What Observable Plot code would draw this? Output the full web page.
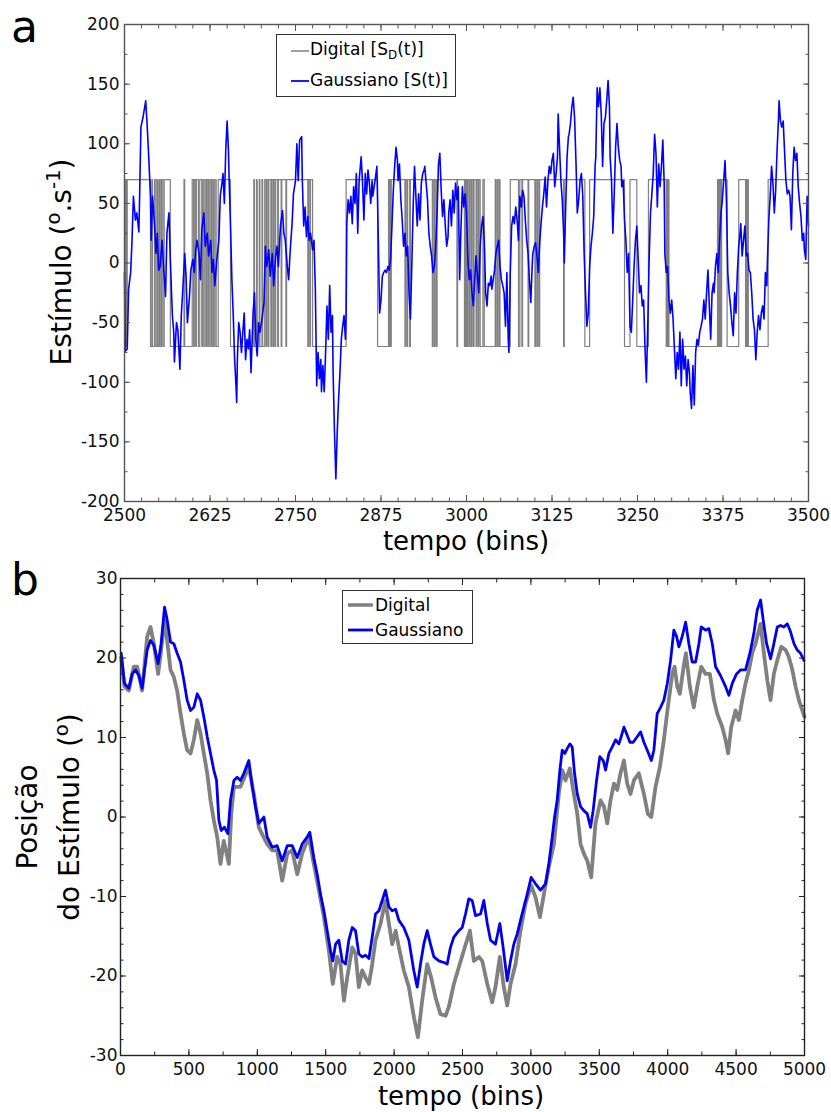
<!DOCTYPE html>
<html>
<head>
<meta charset="utf-8">
<script src="https://cdn.jsdelivr.net/npm/d3@7"></script>
<script src="https://cdn.jsdelivr.net/npm/@observablehq/plot@0.6"></script>
<style>
  html, body { margin: 0; padding: 0; background: #fff; }
  #wrap { position: relative; width: 831px; height: 1112px; overflow: hidden; font-family: "DejaVu Sans", sans-serif; color: #000; }
  .panel { position: absolute; left: 0; }
  .abs { position: absolute; white-space: nowrap; line-height: 1; }
  .rot { transform: translate(-50%, -50%) rotate(-90deg); }
  .hc { transform: translateX(-50%); }
  .legend { position: absolute; border: 1.5px solid #333; background: #fff; box-sizing: border-box; }
  .legend .row { position: absolute; white-space: nowrap; line-height: 1; font-size: 17px; }
  .legend svg { position: absolute; overflow: visible; }
  sub { font-size: 0.7em; vertical-align: -0.3em; line-height: 0; }
  sup { font-size: 0.7em; vertical-align: 0.55em; line-height: 0; }
</style>
</head>
<body>
<div id="wrap">
  <div id="panelA" class="panel" style="top:0"></div>
  <div id="panelB" class="panel" style="top:560px"></div>

  <div class="abs" style="left:11px; top:5px; font-size:44px;">a</div>
  <div class="abs" style="left:11px; top:558px; font-size:44px;">b</div>

  <div class="abs rot" style="left:62px; top:262px; font-size:28px;">Estímulo (<sup>o</sup>.s<sup>-1</sup>)</div>
  <div class="abs hc" style="left:466px; top:528px; font-size:26px;">tempo (bins)</div>

  <div class="abs rot" style="left:28px; top:817px; font-size:28px;">Posição</div>
  <div class="abs rot" style="left:70px; top:817px; font-size:28px;">do Estímulo (<sup>o</sup>)</div>
  <div class="abs hc" style="left:461px; top:1083px; font-size:26px;">tempo (bins)</div>

  <div class="legend" style="left:276px; top:34px; width:180px; height:63px;">
    <svg style="left:14px; top:14px;" width="18" height="4"><line x1="0" y1="2" x2="18" y2="2" stroke="#808080" stroke-width="1.5"/></svg>
    <div class="row" style="left:33px; top:6px;">Digital [S<sub>D</sub>(t)]</div>
    <svg style="left:14px; top:44px;" width="18" height="4"><line x1="0" y1="2" x2="18" y2="2" stroke="#0000ff" stroke-width="1.8"/></svg>
    <div class="row" style="left:33px; top:37px;">Gaussiano [S(t)]</div>
  </div>

  <div class="legend" style="left:342px; top:590px; width:131px; height:54px;">
    <svg style="left:5px; top:11px;" width="25" height="6"><line x1="0" y1="3" x2="25" y2="3" stroke="#808080" stroke-width="3.5"/></svg>
    <div class="row" style="left:32px; top:6px;">Digital</div>
    <svg style="left:5px; top:36px;" width="25" height="6"><line x1="0" y1="3" x2="25" y2="3" stroke="#0000ee" stroke-width="2.8"/></svg>
    <div class="row" style="left:32px; top:31px;">Gaussiano</div>
  </div>
</div>

<script>
// ---------------- Panel a data ----------------
const xTicksA = [2500, 2625, 2750, 2875, 3000, 3125, 3250, 3375, 3500];
const yTicksA = [-200, -150, -100, -50, 0, 50, 100, 150, 200];

// Gaussian stimulus S(t): [bin, deg/s]
const gaussianA = [
[2500,-8],[2501,-74],[2504,-72],[2506,-22],[2509,-8],[2511,19],[2513,56],[2516,36],[2518,42],[2521,26],
[2522,53],[2524,114],[2527,122],[2531,136],[2533,117],[2535,94],[2538,56],[2539,19],[2541,56],[2544,31],
[2546,8],[2548,25],[2550,-6],[2552,-3],[2555,19],[2557,-3],[2560,-28],[2562,25],[2565,42],[2567,3],
[2570,-44],[2572,-58],[2573,-83],[2576,-50],[2578,-56],[2581,-89],[2583,-44],[2585,-25],[2588,8],[2590,-11],
[2592,-50],[2595,-28],[2597,-6],[2600,3],[2602,-8],[2604,11],[2606,19],[2609,8],[2611,-14],[2613,28],
[2616,42],[2618,14],[2621,25],[2623,6],[2626,19],[2628,-8],[2630,3],[2632,-19],[2635,3],[2638,19],
[2640,56],[2643,69],[2644,75],[2646,50],[2648,94],[2650,119],[2652,94],[2653,69],[2655,31],[2657,-14],
[2659,-44],[2661,-81],[2663,-103],[2664,-117],[2665,-81],[2667,-50],[2669,-58],[2671,-75],[2673,-58],[2675,-42],
[2677,-81],[2679,-64],[2681,-72],[2683,-56],[2685,-92],[2688,-42],[2690,-25],[2692,-64],[2694,-78],[2696,-50],
[2698,-58],[2701,-47],[2704,-33],[2706,14],[2708,-3],[2711,11],[2713,-11],[2716,8],[2718,-19],[2721,6],
[2723,14],[2725,-3],[2728,31],[2731,44],[2733,25],[2735,19],[2738,-3],[2740,-14],[2742,8],[2745,33],
[2747,58],[2750,69],[2752,100],[2754,69],[2756,103],[2759,106],[2760,69],[2762,31],[2764,47],[2766,22],
[2768,39],[2770,19],[2772,25],[2775,11],[2777,19],[2779,-22],[2781,-103],[2783,-75],[2785,-97],[2787,-81],
[2788,-108],[2790,-86],[2792,-108],[2794,-75],[2796,-36],[2798,-64],[2800,-19],[2802,-58],[2804,-44],[2805,-92],
[2807,-142],[2809,-181],[2811,-142],[2813,-114],[2815,-92],[2817,-64],[2819,-53],[2821,-44],[2823,-64],[2824,-44],
[2825,33],[2827,53],[2829,42],[2831,56],[2833,33],[2835,64],[2837,50],[2839,75],[2841,25],[2843,69],
[2846,89],[2848,67],[2850,36],[2852,75],[2854,58],[2856,78],[2858,67],[2860,50],[2862,69],[2863,56],
[2865,64],[2867,72],[2869,81],[2871,22],[2873,-42],[2875,-31],[2877,-11],[2879,-8],[2881,-6],[2883,-8],
[2885,-3],[2887,-6],[2889,3],[2891,31],[2893,61],[2895,81],[2897,97],[2899,86],[2900,69],[2902,83],
[2904,53],[2906,36],[2908,14],[2910,25],[2912,6],[2914,14],[2916,-25],[2918,-47],[2920,-3],[2922,47],
[2924,81],[2926,56],[2928,31],[2930,58],[2932,36],[2934,67],[2936,75],[2938,78],[2939,81],[2941,67],
[2943,53],[2945,25],[2947,14],[2949,6],[2951,-8],[2953,-3],[2955,14],[2957,42],[2959,83],[2961,92],
[2963,61],[2965,39],[2967,53],[2969,31],[2971,14],[2973,22],[2974,42],[2976,53],[2978,31],[2980,61],
[2982,42],[2984,67],[2986,53],[2988,64],[2990,-14],[2992,31],[2994,64],[2996,47],[2998,58],[3000,42],
[3002,3],[3004,-14],[3006,-6],[3008,-25],[3010,-36],[3012,-14],[3014,6],[3016,-11],[3018,-25],[3020,14],
[3022,31],[3024,39],[3026,19],[3028,-25],[3030,-36],[3032,-17],[3034,-19],[3036,-11],[3037,-22],[3039,-14],
[3041,-6],[3043,8],[3045,14],[3047,19],[3049,-3],[3051,-14],[3053,-19],[3055,-25],[3057,-53],[3059,-8],
[3061,-64],[3062,-75],[3064,-8],[3066,31],[3068,39],[3070,33],[3072,47],[3074,36],[3076,19],[3078,56],
[3080,47],[3082,61],[3084,56],[3086,36],[3088,19],[3090,8],[3092,-14],[3094,-33],[3096,-3],[3097,8],
[3099,14],[3101,17],[3103,6],[3105,-8],[3107,17],[3109,33],[3111,47],[3113,58],[3115,72],[3117,47],
[3119,69],[3121,81],[3123,75],[3125,86],[3127,92],[3129,64],[3131,75],[3133,89],[3134,125],[3136,97],
[3138,69],[3140,53],[3142,25],[3143,0],[3145,47],[3147,89],[3149,106],[3150,108],[3152,117],[3154,131],
[3156,139],[3158,122],[3160,86],[3162,42],[3164,53],[3166,69],[3168,75],[3170,56],[3172,8],[3174,-25],
[3176,-53],[3178,-42],[3180,-3],[3182,14],[3184,25],[3186,39],[3188,81],[3189,89],[3191,147],[3193,131],
[3195,147],[3197,125],[3199,81],[3201,117],[3203,122],[3205,136],[3207,153],[3209,131],[3210,89],[3212,69],
[3214,25],[3216,58],[3218,97],[3220,117],[3222,97],[3224,86],[3226,81],[3227,64],[3229,69],[3231,36],
[3233,19],[3235,-8],[3237,8],[3239,-53],[3241,-58],[3243,-31],[3245,-3],[3247,19],[3249,31],[3251,3],
[3253,-25],[3255,-19],[3257,-36],[3259,-31],[3261,-72],[3263,-100],[3265,-53],[3267,3],[3269,42],[3271,58],
[3273,75],[3275,108],[3277,92],[3279,47],[3281,83],[3283,64],[3285,81],[3287,103],[3289,67],[3290,8],
[3292,-8],[3294,-3],[3296,-31],[3298,-42],[3300,-31],[3302,-47],[3304,-72],[3306,-97],[3308,-75],[3310,-89],
[3312,-58],[3314,-103],[3316,-64],[3318,-89],[3320,-78],[3322,-103],[3324,-81],[3326,-92],[3327,-108],[3329,-122],
[3331,-86],[3333,-119],[3335,-75],[3337,-64],[3339,-69],[3341,-58],[3343,-53],[3345,-47],[3347,-31],[3349,-47],
[3351,-25],[3353,-6],[3355,-36],[3357,-64],[3359,-25],[3361,-17],[3362,-25],[3364,-3],[3366,8],[3368,-8],
[3370,19],[3372,42],[3374,53],[3376,69],[3378,86],[3380,53],[3382,-8],[3384,-25],[3386,-36],[3388,-50],
[3390,-61],[3392,-25],[3394,-42],[3396,-8],[3398,14],[3400,25],[3401,33],[3403,6],[3405,19],[3407,31],
[3409,6],[3411,8],[3413,-6],[3415,-8],[3417,-25],[3419,-47],[3421,-56],[3423,-81],[3425,-58],[3427,-44],
[3429,-56],[3431,-42],[3433,-36],[3435,-47],[3437,-8],[3439,-19],[3440,3],[3442,36],[3444,56],[3446,81],
[3448,67],[3450,42],[3452,61],[3454,94],[3456,119],[3457,136],[3459,119],[3461,114],[3463,119],[3465,94],
[3467,69],[3469,58],[3471,61],[3473,56],[3475,28],[3477,75],[3479,97],[3481,86],[3483,92],[3485,64],
[3487,50],[3489,39],[3491,19],[3493,25],[3494,11],[3496,3],[3498,56],[3500,31]
];

// Digital stimulus S_D(t): level (+/-70) and the bins at which it flips
const digitalLevel = 70;
const digitalStartLevel = 70;
const digitalFlips = [
2501,2502,2503,2504,
2538,2540,2541,2544,2546,2548,2549,2551,2553,2554,2556,2558,
2567,2587,2588,
2599,2601,2602,2604,2605,2608,2610,2613,2614,2616,2618,2620,2621,2623,2625,2627,2628,2630,2632,2634,2637,
2655,
2689,2690,2693,2694,2697,2698,2701,2702,2705,
2707,2708,2710,2711,2714,2715,2717,2718,2720,2721,2724,2725,2729,2730,2736,2737,
2768,2769,2771,2772,2775,
2824,2870,
2886,2887,2888,2889,2890,
2910,2911,2913,2914,2917,2918,
2950,2951,2953,2954,2956,2957,
2986,2987,2997,2998,
2999,3000,3001,3002,3004,3005,3007,3008,3010,3011,3014,3015,3017,3018,3020,3024,3026,
3042,3043,3045,3046,3048,3049,
3064,3076,3078,3081,3082,3090,3091,3100,3101,3103,3104,3106,3107,
3142,3143,3173,3180,
3231,3239,3249,3266,
3292,3293,3294,3295,3296,
3367,3368,3369,3370,3371,3372,3373,
3381,3398,
3408,3409,3410,3411,3412,
3441
];

// ---------------- Panel b data ----------------
const xTicksB = [0, 500, 1000, 1500, 2000, 2500, 3000, 3500, 4000, 4500, 5000];
const yTicksB = [-30, -20, -10, 0, 10, 20, 30];

const positionGaussian = [
[5,20.6],[29,16.8],[61,16.2],[85,18],[110,18.5],[134,17.8],[158,16.2],[195,21],[219,22.2],[244,21.6],
[275,19.3],[297,21.8],[322,26.4],[341,24.8],[366,22],[390,21.8],[414,20.6],[439,19.5],[463,17.2],[487,14.7],
[512,13.4],[536,13.8],[561,15.5],[585,14.7],[609,12.6],[634,10.1],[658,8],[682,5.9],[702,4.6],[719,-0.4],
[736,-1.7],[760,-1.3],[785,-2.1],[804,2.1],[829,4.6],[853,5],[877,4.6],[902,5.5],[938,7.1],[963,3.8],
[987,1.3],[1011,-0.8],[1048,0],[1072,-2.5],[1109,-3.8],[1145,-3.6],[1182,-5.5],[1219,-3.6],[1255,-3.6],[1292,-5.1],
[1328,-3.4],[1365,-2.5],[1384,-1.9],[1413,-5.1],[1438,-7.2],[1462,-9.7],[1487,-11.8],[1511,-14.3],[1535,-16.8],[1552,-18.1],
[1572,-16],[1596,-15.5],[1621,-18.1],[1645,-18.5],[1669,-15.5],[1694,-13.9],[1718,-14.3],[1742,-17.2],[1767,-17.6],[1791,-17.4],
[1816,-17.8],[1840,-15.1],[1864,-12.2],[1889,-11.8],[1913,-10.5],[1937,-9.2],[1962,-11.3],[1986,-11.8],[2011,-11.6],[2035,-13],
[2071,-13.9],[2108,-15.5],[2144,-19.3],[2169,-21.4],[2193,-18.5],[2217,-16],[2242,-14.3],[2266,-16],[2291,-17.6],[2327,-18.1],
[2364,-18.3],[2388,-18.5],[2412,-16.4],[2437,-15.1],[2473,-14.3],[2498,-13.9],[2522,-12.2],[2546,-10.3],[2571,-10.5],[2595,-12.4],
[2632,-12.2],[2656,-10.5],[2681,-13.4],[2705,-15.5],[2741,-16],[2773,-13.4],[2797,-16.4],[2827,-20.6],[2851,-18.1],[2875,-16],
[2900,-14.7],[2924,-13],[2949,-11.3],[2973,-9.7],[3002,-7.6],[3034,-8.4],[3070,-9.2],[3107,-8.4],[3131,-5.9],[3156,-2.5],
[3173,0],[3192,2.1],[3212,5.9],[3229,8.4],[3248,8],[3265,8.6],[3285,9.2],[3302,8.8],[3319,5.5],[3339,2.9],
[3363,1.3],[3387,0.8],[3412,0.4],[3436,-1.3],[3455,0.8],[3480,4.6],[3504,7.6],[3529,7.1],[3546,5.9],[3570,8],
[3594,8.8],[3619,9.7],[3643,9.2],[3660,10.1],[3680,11.3],[3699,10.5],[3724,9.4],[3748,9.4],[3777,10.1],[3802,10.7],
[3826,9.4],[3855,8.2],[3880,7.1],[3899,8.4],[3923,13],[3948,13.8],[3972,14.7],[3997,16.8],[4021,19.7],[4045,23.5],
[4065,22.7],[4082,21.4],[4106,22.7],[4131,24.5],[4155,21.8],[4179,19.5],[4204,19.5],[4228,21.8],[4245,23.9],[4277,23.5],
[4301,23.7],[4326,21.8],[4350,18.9],[4386,17.8],[4423,16.4],[4447,15.3],[4472,16.8],[4503,18],[4533,18.5],[4569,18.5],
[4601,20.6],[4630,23.1],[4654,26],[4679,27.3],[4698,24.8],[4723,21.8],[4752,19.9],[4776,21.8],[4801,23.9],[4825,24.1],
[4849,23.9],[4874,24.3],[4898,23.3],[4923,21.8],[4947,21],[4971,20.6],[4996,19.7]
];

const positionDigital = [
[5,20.1],[29,16.4],[61,15.9],[97,18.9],[122,18.9],[158,15.9],[195,22.7],[219,23.9],[244,21.8],[275,18],
[297,21],[322,24.8],[341,22.2],[366,18.5],[390,17.6],[414,15.9],[439,13],[463,10.5],[487,8.4],[512,8],
[536,9.7],[561,12.2],[585,10.5],[609,8],[634,5.5],[658,2.1],[682,-0.4],[707,-2.5],[731,-5.9],[755,-3],
[792,-5.9],[810,0.5],[829,3.8],[877,3.8],[938,6.3],[975,2.9],[1011,-1.3],[1072,-3.4],[1109,-4.2],[1145,-4.2],
[1182,-8],[1219,-4.6],[1255,-4.2],[1292,-7.2],[1328,-4.6],[1377,-2.5],[1413,-5.9],[1450,-9.2],[1487,-12.6],[1523,-16.8],
[1552,-21],[1584,-17.6],[1608,-18.5],[1633,-23.1],[1657,-20.2],[1694,-16.4],[1718,-17.2],[1742,-21.4],[1767,-19.3],[1791,-20.2],
[1816,-21],[1840,-18.5],[1864,-15.5],[1901,-13.4],[1937,-10.5],[1962,-13.4],[1986,-16],[2011,-14.3],[2035,-16.4],[2071,-19.3],
[2108,-21.4],[2145,-25.2],[2174,-27.7],[2205,-23.1],[2242,-18.5],[2271,-20.2],[2303,-22.7],[2339,-24.8],[2376,-25],[2400,-23.9],
[2437,-21],[2473,-18.9],[2510,-16.8],[2554,-14.3],[2583,-18.1],[2620,-17.6],[2644,-18.1],[2681,-21],[2717,-23.3],[2741,-21.4],
[2773,-17.6],[2802,-21.4],[2827,-23.7],[2851,-21],[2888,-18.5],[2924,-14.3],[2961,-10.9],[3002,-8.6],[3034,-10.1],[3066,-12.6],
[3095,-9.7],[3131,-6.3],[3168,-3.4],[3180,-1.3],[3204,2.9],[3229,5.9],[3253,4.6],[3285,6.1],[3314,2.9],[3339,0.4],
[3363,-3.4],[3387,-4.6],[3412,-5.5],[3441,-7.6],[3472,-0.8],[3509,2.1],[3534,1.3],[3558,-0.8],[3582,2.1],[3607,4.2],
[3631,3.4],[3655,5.5],[3680,7.1],[3704,4.2],[3728,2.9],[3753,4.6],[3789,5.5],[3826,2.9],[3855,0.4],[3880,0],
[3911,3.8],[3943,6.3],[3972,9.7],[4001,13.8],[4033,18],[4050,18.9],[4070,16.4],[4089,15.5],[4113,18.5],[4133,20.6],
[4162,16.4],[4191,13.8],[4216,16.4],[4245,18.9],[4277,18],[4308,18],[4338,14.7],[4362,13],[4399,11.3],[4423,9.7],
[4442,8],[4464,11.3],[4496,13.4],[4520,12.2],[4545,14.7],[4569,16.8],[4594,18.5],[4618,20.6],[4642,21.8],[4679,24.3],
[4703,20.6],[4728,17.2],[4752,14.7],[4776,18],[4801,19.7],[4830,21.4],[4862,21],[4886,20.1],[4911,18.5],[4935,16.4],
[4959,14.7],[4984,13.4],[5000,12.6]
];

// ---------------- build ----------------
const digitalA = [{t: xTicksA[0], v: digitalStartLevel}];
{
  let lvl = digitalStartLevel;
  for (const f of digitalFlips) { lvl = lvl === digitalLevel ? -digitalLevel : digitalLevel; digitalA.push({t: f, v: lvl}); }
  digitalA.push({t: xTicksA[xTicksA.length - 1], v: lvl});
}

const fmt = d => String(d);
const blank = () => "";

function frameTicks(xMaj, xMin, yMaj, yMin, col, xPad, yPad) {
  const m = [
    Plot.axisX({anchor: "bottom", ticks: xMaj, tickSize: 0, tickPadding: xPad, tickFormat: fmt, label: null, fontSize: 17, fill: "#111"}),
    Plot.axisY({anchor: "left", ticks: yMaj, tickSize: 0, tickPadding: yPad, tickFormat: fmt, label: null, fontSize: 17, fill: "#111"})
  ];
  for (const a of ["bottom", "top"]) {
    m.push(Plot.axisX({anchor: a, ticks: xMin, tickSize: -3.5, tickFormat: blank, label: null, stroke: col}));
    m.push(Plot.axisX({anchor: a, ticks: xMaj, tickSize: -6, tickFormat: blank, label: null, stroke: col}));
  }
  for (const a of ["left", "right"]) {
    m.push(Plot.axisY({anchor: a, ticks: yMin, tickSize: -3.5, tickFormat: blank, label: null, stroke: col}));
    m.push(Plot.axisY({anchor: a, ticks: yMaj, tickSize: -6, tickFormat: blank, label: null, stroke: col}));
  }
  return m;
}

const styleCommon = {fontFamily: '"DejaVu Sans", sans-serif', fontSize: "17px", color: "#000", background: "transparent", overflow: "visible"};

const plotA = Plot.plot({
  width: 831, height: 560,
  marginLeft: 124, marginRight: 23, marginTop: 24, marginBottom: 59,
  x: {domain: [xTicksA[0], xTicksA[xTicksA.length - 1]]},
  y: {domain: [yTicksA[0], yTicksA[yTicksA.length - 1]]},
  style: styleCommon,
  marks: [
    Plot.line(digitalA, {x: "t", y: "v", curve: "step-after", stroke: "#808080", strokeWidth: 1.2}),
    Plot.line(gaussianA, {x: d => d[0], y: d => d[1], stroke: "#0000ff", strokeWidth: 1.6, strokeLinejoin: "round"}),
    Plot.frame({stroke: "#555", strokeWidth: 1.4}),
    ...frameTicks(xTicksA, d3.range(2500, 3501, 25), yTicksA, d3.range(-200, 201, 25), "#555", 7, 5)
  ]
});
document.getElementById("panelA").appendChild(plotA);

const plotB = Plot.plot({
  width: 831, height: 552,
  marginLeft: 120, marginRight: 27, marginTop: 18, marginBottom: 57,
  x: {domain: [xTicksB[0], xTicksB[xTicksB.length - 1]]},
  y: {domain: [yTicksB[0], yTicksB[yTicksB.length - 1]]},
  style: styleCommon,
  marks: [
    Plot.line(positionDigital, {x: d => d[0], y: d => d[1], stroke: "#808080", strokeWidth: 3.8, strokeLinejoin: "round"}),
    Plot.line(positionGaussian, {x: d => d[0], y: d => d[1], stroke: "#0000ee", strokeWidth: 2.8, strokeLinejoin: "round"}),
    Plot.frame({stroke: "#222", strokeWidth: 1.4}),
    ...frameTicks(xTicksB, d3.range(0, 5001, 250), yTicksB, d3.range(-30, 31, 2), "#222", 7, 3)
  ]
});
document.getElementById("panelB").appendChild(plotB);
</script>
</body>
</html>
